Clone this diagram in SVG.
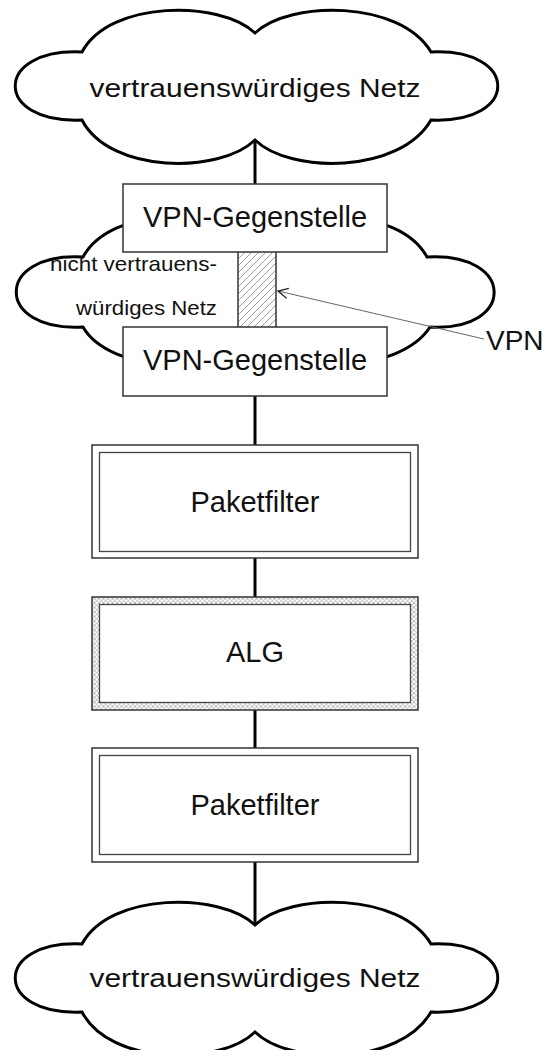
<svg xmlns="http://www.w3.org/2000/svg" width="545" height="1050" viewBox="0 0 545 1050">
<style>
.cloud{fill:#fff;stroke:#000;stroke-width:3}
.box{fill:#fff;stroke:#333;stroke-width:1.5}
.thin{fill:none;stroke:#444;stroke-width:1.3}
.conn{stroke:#000;stroke-width:3;fill:none}
text{font-family:"Liberation Sans",Arial,sans-serif;fill:#111}
.lbl{font-size:29px;text-anchor:middle}
.cl{font-size:26px;text-anchor:middle}
.small{font-size:21px;text-anchor:end}
</style>
<defs>
<pattern id="hatch" width="7" height="7" patternUnits="userSpaceOnUse">
<path d="M-1,8 L8,-1 M-1,1 L1,-1 M6,8 L8,6" stroke="#888" stroke-width="0.8"/>
</pattern>
<pattern id="xhatch" width="4.5" height="4.5" patternUnits="userSpaceOnUse">
<path d="M0,0 L4.5,4.5 M4.5,0 L0,4.5" stroke="#999" stroke-width="0.7"/>
</pattern>
<marker id="open" markerWidth="14" markerHeight="14" refX="12" refY="6" orient="auto" markerUnits="userSpaceOnUse">
<path d="M2,1 L12,6 L2,11" fill="none" stroke="#222" stroke-width="1.3"/>
</marker>
<path id="cloudshape" d="M255,33 C290,0 400,0 431,52 C520,48 520,124 431,120 C400,174 290,174 255,140 C220,174 110,174 82,120 C-7,124 -7,48 82,52 C110,0 220,0 255,33 Z"/>
</defs>

<g id="connectors">
<line class="conn" x1="255" y1="138" x2="255" y2="184"/>
<line class="conn" x1="255" y1="396" x2="255" y2="445"/>
<line class="conn" x1="255" y1="558" x2="255" y2="597"/>
<line class="conn" x1="255" y1="710" x2="255" y2="748"/>
<line class="conn" x1="255" y1="862" x2="255" y2="927"/>
</g>

<g id="cloud-top">
<use href="#cloudshape" class="cloud"/>
<text class="cl" x="255" y="97" textLength="331" lengthAdjust="spacingAndGlyphs">vertrauenswürdiges Netz</text>
</g>

<g id="cloud-untrusted">
<path class="cloud" d="M255,238 C290,206 400,206 427,257 C516,252 516,332 430,327 C400,374 290,374 255,350 C220,374 110,374 83,327 C-6,332 -6,252 83,257 C110,206 220,206 255,238 Z"/>
<text class="small" x="217" y="271" textLength="167" lengthAdjust="spacingAndGlyphs">nicht vertrauens-</text>
<text class="small" x="217" y="315" textLength="141" lengthAdjust="spacingAndGlyphs">würdiges Netz</text>
</g>

<g id="vpn-tunnel">
<rect x="238" y="252" width="38" height="75" fill="url(#hatch)"/>
<line x1="238" y1="252" x2="238" y2="327" stroke="#333" stroke-width="1.5"/>
<line x1="276" y1="252" x2="276" y2="327" stroke="#333" stroke-width="1.5"/>
</g>

<g id="vpn-top">
<rect class="box" x="123" y="184" width="264" height="68"/>
<text class="lbl" x="255" y="227">VPN-Gegenstelle</text>
</g>

<g id="vpn-bottom">
<rect class="box" x="123" y="327" width="264" height="69"/>
<text class="lbl" x="255" y="370">VPN-Gegenstelle</text>
</g>

<g id="vpn-label">
<line x1="484" y1="339" x2="278" y2="291" stroke="#666" stroke-width="1" marker-end="url(#open)"/>
<text x="486" y="350" style="font-size:28px">VPN</text>
</g>

<g id="paketfilter-1">
<rect class="box" x="92" y="445" width="326" height="113"/>
<rect class="thin" x="99.5" y="452.5" width="311" height="99"/>
<text class="lbl" x="255" y="512">Paketfilter</text>
</g>

<g id="alg">
<rect x="92" y="597" width="326" height="113" fill="url(#xhatch)" stroke="#333" stroke-width="1.5"/>
<rect x="99.5" y="604.5" width="311" height="98" fill="#fff" stroke="#444" stroke-width="1.3"/>
<text class="lbl" x="255" y="662">ALG</text>
</g>

<g id="paketfilter-2">
<rect class="box" x="92" y="748" width="326" height="114"/>
<rect class="thin" x="99.5" y="755.5" width="311" height="99"/>
<text class="lbl" x="255" y="815">Paketfilter</text>
</g>

<g id="cloud-bottom">
<use href="#cloudshape" class="cloud" transform="translate(0,892)"/>
<text class="cl" x="255" y="987" textLength="331" lengthAdjust="spacingAndGlyphs">vertrauenswürdiges Netz</text>
</g>
</svg>
